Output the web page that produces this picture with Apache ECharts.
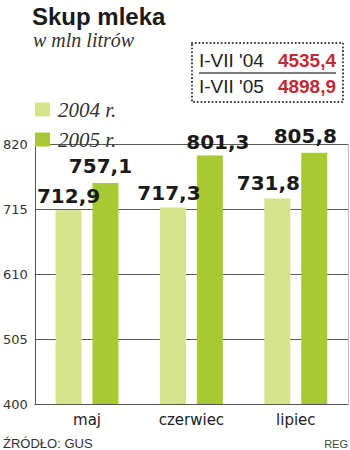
<!DOCTYPE html>
<html>
<head>
<meta charset="utf-8">
<script src="https://cdn.jsdelivr.net/npm/echarts@6/dist/echarts.min.js"></script>
<style>html,body{margin:0;padding:0;background:#fff;}#c{width:350px;height:450px;}</style>
</head>
<body>
<div id="c"></div>
<script>
// ---- data ----
var categories = ['maj', 'czerwiec', 'lipiec'];
var seriesNames = ['2004 r.', '2005 r.'];
var values2004 = [712.9, 717.3, 731.8];
var values2005 = [757.1, 801.3, 805.8];
var yTicks = [400, 505, 610, 715, 820];
var periods = ["I-VII '04", "I-VII '05"];
var totals = ['4535,4', '4898,9'];
var titleText = 'Skup mleka';
var subtitleText = 'w mln litrów';
var sourceText = 'ŹRÓDŁO: GUS';
var creditText = 'REG';

// ---- chart ----
var chart = echarts.init(document.getElementById('c'), null, {renderer: 'svg'});
var colors = ['#d6e38d', '#a8c932'];
// label nudges (style only), per series then category
var labelNudge = [[[0, 1], [-4, 0], [-9, -1]], [[-5, -2], [8, 1], [-9, -2]]];
var fmt = function (p) { return String(p.value.toFixed(1)).replace('.', ','); };
var seriesData = [values2004, values2005];
var series = seriesNames.map(function (n, i) {
  return {
    name: n, type: 'bar', barWidth: 26, barGap: '42%',
    data: seriesData[i].map(function (v, j) {
      return {value: v, label: {offset: labelNudge[i][j]}};
    }),
    itemStyle: {color: colors[i]}, z: 3,
    label: {
      show: true, position: 'top', distance: 5,
      fontFamily: 'DejaVu Sans', fontWeight: 'bold', fontSize: 20, color: '#1a1a1a',
      formatter: fmt
    }
  };
});

var graphics = [
  {type: 'rect', shape: {x: 192, y: 43, width: 151, height: 59},
   style: {fill: 'none', stroke: '#333', lineWidth: 2, lineDash: [0.1, 3.6], lineCap: 'round'}},
  {type: 'line', shape: {x1: 199, y1: 73, x2: 336, y2: 73}, style: {stroke: '#7a7a7a', lineWidth: 2}},
  {type: 'text', x: 3, y: 443,
   style: {text: sourceText, fontFamily: 'Liberation Sans', fontSize: 13, fill: '#333', verticalAlign: 'middle', align: 'left'}},
  {type: 'text', x: 348, y: 444,
   style: {text: creditText, fontFamily: 'Liberation Sans', fontSize: 11, fill: '#444', verticalAlign: 'middle', align: 'right'}}
];
var rowY = [60, 86.5];
periods.forEach(function (p, i) {
  graphics.push({type: 'text', x: 199, y: rowY[i],
    style: {text: p, fontFamily: 'Liberation Sans', fontSize: 19, fill: '#222', verticalAlign: 'middle', align: 'left'}});
  graphics.push({type: 'text', x: 336, y: rowY[i],
    style: {text: totals[i], fontFamily: 'Liberation Sans', fontWeight: 'bold', fontSize: 19, fill: '#c42a33', verticalAlign: 'middle', align: 'right'}});
});

chart.setOption({
  animation: false,
  backgroundColor: '#fff',
  title: [
    {text: titleText, left: 32, top: 4, padding: 0,
     textStyle: {fontFamily: 'Liberation Sans', fontWeight: 'bold', fontSize: 24, color: '#1a1a1a'}},
    {text: subtitleText, left: 33, top: 30, padding: 0,
     textStyle: {fontFamily: 'Liberation Serif', fontStyle: 'italic', fontWeight: 'normal', fontSize: 20, color: '#333'}}
  ],
  legend: {
    orient: 'vertical', left: 35, top: 99, padding: 0, itemWidth: 15, itemHeight: 14, itemGap: 9,
    icon: 'rect', data: seriesNames,
    textStyle: {fontFamily: 'Liberation Serif', fontStyle: 'italic', fontSize: 21, color: '#333', padding: [2, 0, 0, 3]}
  },
  grid: {left: 32, right: 2, top: 144, bottom: 46, containLabel: false},
  xAxis: {
    type: 'category', data: categories,
    axisLine: {lineStyle: {color: '#555', width: 1}},
    axisTick: {show: false},
    axisLabel: {fontFamily: 'DejaVu Sans', fontSize: 15, color: '#222', margin: 8}
  },
  yAxis: [{
    type: 'value', min: yTicks[0], max: yTicks[yTicks.length - 1], interval: yTicks[1] - yTicks[0],
    axisLine: {show: true, lineStyle: {color: '#555', width: 1}},
    axisTick: {show: false},
    splitLine: {lineStyle: {color: '#5a5a5a', width: 1}},
    axisLabel: {fontFamily: 'DejaVu Sans', fontSize: 13, color: '#333', margin: 7}
  }, {
    type: 'value', position: 'right', min: yTicks[0], max: yTicks[yTicks.length - 1], interval: yTicks[1] - yTicks[0],
    axisLine: {show: true, lineStyle: {color: '#bbb', width: 1}},
    axisTick: {show: false}, axisLabel: {show: false}, splitLine: {show: false}
  }],
  series: series,
  graphic: graphics
});
</script>
</body>
</html>
